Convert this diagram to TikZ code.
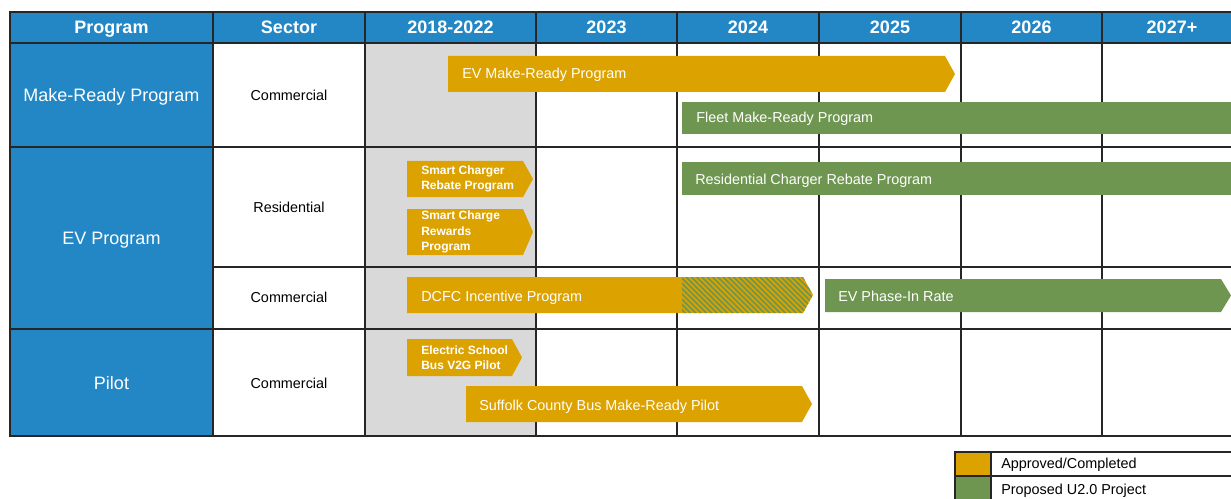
\documentclass[tikz,border=0pt]{standalone}
\usepackage{fontspec}
\setmainfont{Liberation Sans}
\usetikzlibrary{patterns.meta}

\definecolor{hdrblue}{HTML}{2387C6}
\definecolor{apporange}{HTML}{DCA200}
\definecolor{propgreen}{HTML}{6E9650}
\definecolor{pastgrey}{HTML}{D9D9D9}

% bar with a pointed right end: x1, x2 (end of body), y1, y2, colour
\newcommand{\tipbar}[5]{%
  \fill[#5] (#1,#3) -- (#2,#3) -- ({#2+10},{(#3+#4)/2}) -- (#2,#4) -- (#1,#4) -- cycle;}

\begin{document}
\begin{tikzpicture}[x=0.75pt, y=-0.75pt,
  grid/.style={line width=1.5pt, black!85},
  hdr/.style={text=white, anchor=base, font=\fontsize{13.5}{16}\selectfont\bfseries},
  prog/.style={text=white, anchor=base, font=\fontsize{13.5}{16}\selectfont},
  sect/.style={anchor=base, font=\fontsize{10.8}{13}\selectfont},
  bartext/.style={text=white, anchor=base west, inner sep=0pt, font=\fontsize{10.8}{13}\selectfont},
  smalltext/.style={text=white, anchor=west, inner sep=0pt, align=left, font=\fontsize{9}{11.5}\selectfont\bfseries},
  legtext/.style={anchor=base west, inner sep=0pt, font=\fontsize{10.8}{13}\selectfont}]
  \useasboundingbox (0,0) rectangle (1231,499);

  % Cell fills
  \fill[hdrblue] (10,12) rectangle (1231,43);
  \fill[hdrblue] (10,43) rectangle (213,436);
  \fill[pastgrey] (365,43) rectangle (536,436);

  % Grid
  \draw[grid] (1231,12) -- (10,12) -- (10,436) -- (1231,436);
  \draw[grid] (10,43) -- (1231,43);
  \draw[grid] (10,147) -- (1231,147);
  \draw[grid] (213,267) -- (1231,267);
  \draw[grid] (10,329) -- (1231,329);
  \foreach \x in {213,365,536,677,819,961,1102}
    \draw[grid] (\x,12) -- (\x,436);

  % Header
  \node[hdr] (hprog) at (111.5,34) {Program};
  \node[hdr] (hsect) at (289,34) {Sector};
  \node[hdr] (hpast) at (450.5,34) {2018-2022};
  \node[hdr] (h23) at (606.5,34) {2023};
  \node[hdr] (h24) at (748,34) {2024};
  \node[hdr] (h25) at (890,34) {2025};
  \node[hdr] (h26) at (1031.5,34) {2026};
  \node[hdr] (h27) at (1172,34) {2027+};

  % Programs and sectors
  \node[prog] (pmr) at (111.5,102) {Make-Ready Program};
  \node[prog] (pev) at (111.5,244) {EV Program};
  \node[prog] (ppil) at (111.5,389) {Pilot};
  \node[sect] (smr) at (289,101) {Commercial};
  \node[sect] (sres) at (289,212) {Residential};
  \node[sect] (scom) at (289,302) {Commercial};
  \node[sect] (spil) at (289,388) {Commercial};

  % Bars
  \tipbar{448}{945}{56}{92}{apporange}
  \node[bartext] (evmr) at (462,79) {EV Make-Ready Program};
  \fill[propgreen] (682,102) rectangle (1231,134);
  \node[bartext] (fleet) at (696,123) {Fleet Make-Ready Program};

  \tipbar{407}{523}{161}{197}{apporange}
  \node[smalltext] (scrp) at (421,179) {Smart Charger\\Rebate Program};
  \tipbar{407}{523}{209}{255}{apporange}
  \node[smalltext] (scrw) at (421,232) {Smart Charge\\Rewards\\Program};
  \fill[propgreen] (682,162) rectangle (1231,195);
  \node[bartext] (rcrp) at (695,185) {Residential Charger Rebate Program};

  \tipbar{407}{803}{277}{313}{apporange}
  \pattern[pattern={Lines[angle=-45,distance=2.8pt,line width=1.3pt]}, pattern color=propgreen]
    (682,277) -- (803,277) -- (813,295) -- (803,313) -- (682,313) -- cycle;
  \node[bartext] (dcfc) at (421,301) {DCFC Incentive Program};
  \tipbar{825}{1221}{279}{312}{propgreen}
  \node[bartext] (phase) at (838,301) {EV Phase-In Rate};

  \tipbar{407}{512}{339}{376}{apporange}
  \node[smalltext] (v2g) at (421,358) {Electric School\\Bus V2G Pilot};
  \tipbar{466}{802}{386}{422}{apporange}
  \node[bartext] (suff) at (479,410) {Suffolk County Bus Make-Ready Pilot};

  % Legend
  \fill[apporange] (955,452) rectangle (991,476);
  \fill[propgreen] (955,476) rectangle (991,500);
  \draw[grid] (1231,452) -- (955,452) -- (955,500);
  \draw[grid] (991,452) -- (991,500);
  \draw[grid] (955,476) -- (1231,476);
  \node[legtext] (lapp) at (1001,468) {Approved/Completed};
  \node[legtext] (lprop) at (1001,494) {Proposed U2.0 Project};
\end{tikzpicture}
\end{document}
